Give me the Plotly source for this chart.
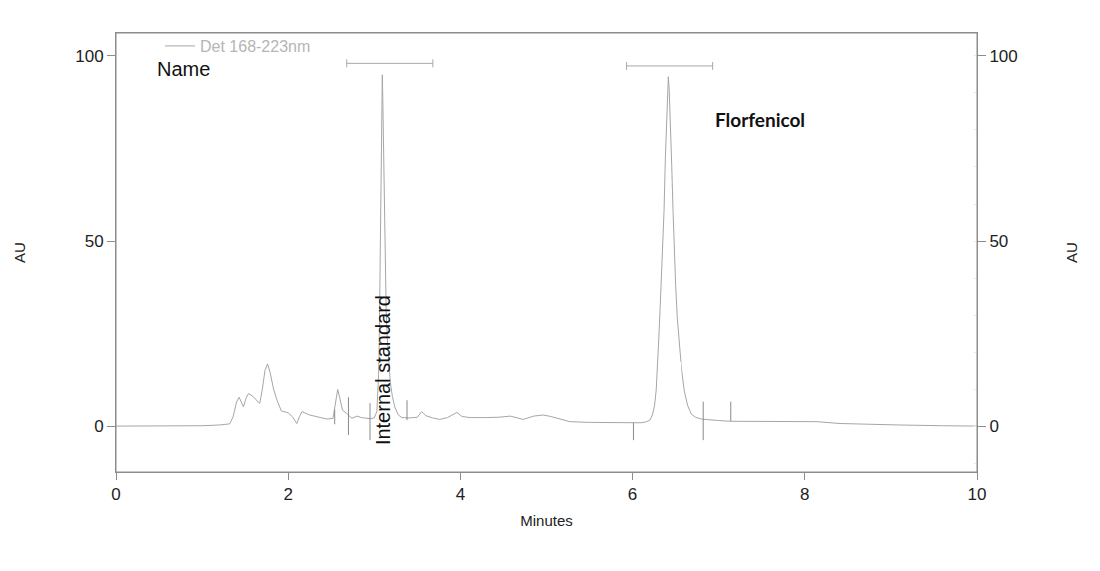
import plotly.graph_objects as go

# Chromatogram trace (Minutes, AU)
time_min = [0.00, 0.50, 1.00, 1.20, 1.32, 1.36, 1.40, 1.43, 1.46, 1.48, 1.51, 1.54, 1.58, 1.61, 1.65, 1.67,
            1.70, 1.73, 1.76, 1.79, 1.83, 1.87, 1.92, 2.00, 2.05, 2.10, 2.13, 2.16, 2.25, 2.35, 2.45, 2.52,
            2.55, 2.575, 2.60, 2.63, 2.68, 2.74, 2.80, 2.85, 2.95, 3.00, 3.03,
            3.040, 3.050, 3.056, 3.062, 3.068, 3.075, 3.082, 3.088, 3.093, 3.099, 3.106, 3.113, 3.120, 3.128,
            3.138, 3.150, 3.165, 3.185, 3.21, 3.24, 3.28, 3.32,
            3.40, 3.50, 3.55, 3.60, 3.68, 3.76, 3.85, 3.96, 4.02, 4.11, 4.30, 4.45, 4.58, 4.65, 4.73, 4.85,
            4.96, 5.05, 5.27, 5.50, 5.85, 6.10,
            6.15, 6.20, 6.23, 6.255, 6.275, 6.29, 6.305, 6.32, 6.335, 6.35, 6.365, 6.38, 6.395, 6.405, 6.415,
            6.425, 6.44, 6.455, 6.47, 6.485, 6.50, 6.52, 6.545, 6.57, 6.60, 6.64, 6.68, 6.73, 6.80, 6.90,
            7.00, 7.14, 7.50, 7.80, 8.14, 8.41, 8.80, 9.10, 9.60, 10.00]
au = [0.0, 0.0, 0.1, 0.3, 0.6, 2.5, 6.5, 7.8, 6.0, 5.2, 7.5, 8.8, 8.2, 7.6, 6.5, 6.2,
      10.0, 15.0, 16.8, 14.5, 10.0, 7.0, 4.1, 3.6, 2.5, 0.7, 2.5, 3.9, 3.0, 2.4, 1.9, 2.1,
      6.0, 9.9, 7.5, 4.3, 3.4, 2.1, 2.7, 2.3, 2.0, 2.2, 4.0,
      8.0, 14.0, 20.0, 33.0, 47.0, 62.0, 78.0, 89.0, 94.9, 88.0, 76.0, 63.0, 52.0, 41.0,
      31.0, 24.0, 18.0, 12.0, 8.0, 5.0, 3.0, 2.3,
      2.2, 2.4, 3.9, 2.8, 2.2, 1.8, 2.3, 3.7, 2.6, 2.3, 2.3, 2.4, 2.7, 2.2, 1.8, 2.7,
      3.0, 2.6, 1.2, 1.0, 0.9, 0.9,
      1.1, 1.6, 3.0, 5.5, 10.0, 16.0, 24.0, 32.0, 40.0, 48.0, 58.0, 72.0, 84.0, 91.0, 94.4,
      91.0, 82.0, 70.0, 58.0, 47.0, 38.0, 29.0, 21.0, 15.0, 9.5, 5.5, 3.3, 2.4, 1.9, 1.6,
      1.5, 1.3, 1.3, 1.3, 1.2, 0.7, 0.4, 0.3, 0.1, 0.0]

# Integration tick marks
mark_time = [2.54, 2.70, 2.95, 3.38, 6.01, 6.82, 7.14]
mark_top = [4.5, 7.8, 6.2, 7.0, 0.9, 6.6, 6.6]
mark_bottom = [0.5, -2.4, -3.8, 1.6, -3.8, -3.8, 1.3]

# Peak windows drawn above the peaks
window_start = [2.68, 5.93]
window_end = [3.68, 6.93]
window_level = [98.0, 97.3]

x_ticks = [0, 2, 4, 6, 8, 10]
y_ticks = [0, 50, 100]

LINE = "#a6a6a6"
AXIS = "#8c8c8c"
FONT = "Liberation Sans, Arial, sans-serif"

# plot frame in figure pixels (page is offset by the 8px body margin)
L, R, T, B = 108, 969, 25, 464
W, H = 1100, 571

fig = go.Figure()

fig.add_trace(go.Scatter(
    x=time_min, y=au, mode="lines", name="Det 168-223nm",
    line=dict(color=LINE, width=1), showlegend=True,
))

mx, my = [], []
for t, a, b in zip(mark_time, mark_top, mark_bottom):
    mx += [t, t, None]
    my += [a, b, None]
fig.add_trace(go.Scatter(x=mx, y=my, mode="lines", line=dict(color="#8a8a8a", width=1),
                         showlegend=False, hoverinfo="skip"))

mid = [(s + e) / 2 for s, e in zip(window_start, window_end)]
half = [(e - s) / 2 for s, e in zip(window_start, window_end)]
fig.add_trace(go.Scatter(
    x=mid, y=window_level, mode="markers", marker=dict(size=1, color="rgba(0,0,0,0)"),
    error_x=dict(type="data", array=half, symmetric=True, color="#a8a8a8", thickness=1, width=4),
    showlegend=False, yaxis="y2", hoverinfo="skip",
))

# white patch over the base of the Florfenicol peak (as in the original image)
fig.add_shape(type="rect", xref="x", yref="y", x0=6.30, x1=6.565, y0=-10.5, y1=17.3,
              fillcolor="white", line=dict(width=0), layer="above")

# plot frame
fig.add_shape(type="rect", xref="paper", yref="paper", x0=0, x1=1, y0=0, y1=1,
              line=dict(color=AXIS, width=1), fillcolor="rgba(0,0,0,0)", layer="above")

fig.add_annotation(x=3.10, y=15.1, xref="x", yref="y", text="Internal standard", textangle=-90,
                   showarrow=False, font=dict(family=FONT, size=20, color="#111"))
fig.add_annotation(x=7.48, y=83, xref="x", yref="y", text="<b>Florfenicol</b>", showarrow=False,
                   font=dict(family="Lato, sans-serif", size=19, color="#111"), bgcolor="white",
                   width=134, height=48)
fig.add_annotation(x=(147 - L) / (R - L), y=(H - 61 - (H - B)) / (B - T), xref="paper", yref="paper",
                   text="Name", xanchor="left", yanchor="middle", showarrow=False,
                   font=dict(family=FONT, size=20, color="#111"))

axis_common = dict(showline=True, linecolor=AXIS, linewidth=1, ticks="outside", tickcolor=AXIS,
                   showgrid=False, zeroline=False, tickfont=dict(family=FONT, size=17, color="#222"))

fig.update_layout(
    width=W, height=H,
    margin=dict(l=L, r=W - R, t=T, b=H - B),
    paper_bgcolor="white", plot_bgcolor="white",
    xaxis=dict(range=[0, 10], tickvals=x_ticks, ticklen=7, mirror=True,
               title=dict(text="Minutes", font=dict(family=FONT, size=15, color="#222"), standoff=12),
               **axis_common),
    yaxis=dict(range=[-12.4, 106.2], tickvals=y_ticks, ticklen=8,
               title=dict(text="AU", font=dict(family=FONT, size=15, color="#222"), standoff=45),
               **axis_common),
    yaxis2=dict(range=[-12.4, 106.2], tickvals=y_ticks, ticklen=8, overlaying="y", side="right",
                title=dict(text="AU", font=dict(family=FONT, size=15, color="#222"), standoff=49),
                minor=dict(dtick=10, ticks="inside", ticklen=4, tickcolor="#eeeeee"),
                **axis_common),
    legend=dict(x=(152 - L) / (R - L), y=(B - 21) / (B - T), xanchor="left", yanchor="top",
                bgcolor="rgba(0,0,0,0)", font=dict(family=FONT, size=16, color="#b5b5b5")),
    showlegend=True,
)

fig.write_html("out.html")
